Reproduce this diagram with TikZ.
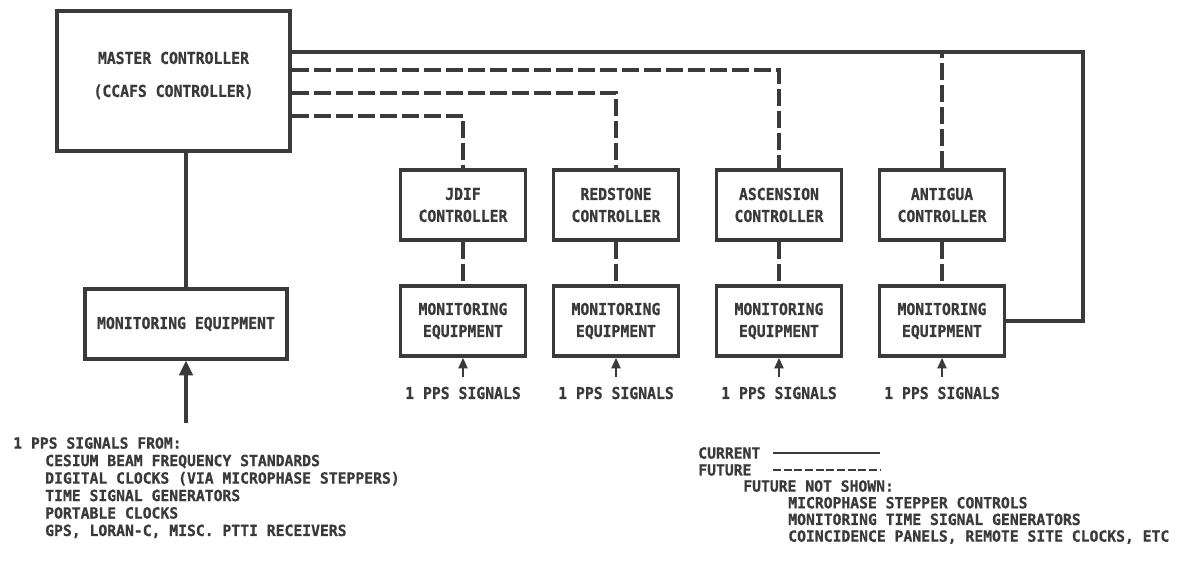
\documentclass[tikz,border=0pt]{standalone}
\usepackage{fontspec}
\newfontfamily\boxletters[FakeStretch=0.9, BoldFeatures={FakeBold=0.8}]{DejaVu Sans Mono}
\newfontfamily\noteletters[FakeStretch=0.96, BoldFeatures={FakeBold=0.8}]{DejaVu Sans Mono}
\usetikzlibrary{positioning, calc, arrows.meta}

\definecolor{ink}{RGB}{58,58,58}
\newcommand{\boxfont}{\boxletters\bfseries\fontsize{12.3}{16.5}\selectfont}
\newcommand{\notefont}{\noteletters\bfseries\fontsize{11.5}{13.1}\selectfont}

\tikzset{
	unit/.style={draw=ink, line width=2.4pt, text=ink, font=\boxfont, align=center, inner sep=0pt},
	site/.style={unit, minimum width=93.75pt, minimum height=52.5pt},
	ppstext/.style={text=ink, font=\boxfont, inner sep=0pt},
	note/.style={text=ink, font=\notefont, align=left, inner sep=0pt},
	current/.style={draw=ink, line width=2.4pt},
	future/.style={draw=ink, line width=2.4pt, dash pattern=on 13pt off 3.5pt},
	feed/.style={draw=ink, line width=2.4pt, -{Triangle[length=11pt,width=10pt]}},
	ppsin/.style={draw=ink, line width=2pt, -{Triangle[length=8pt,width=6.5pt]}, shorten <=7.5pt},
}

\begin{document}
\begin{tikzpicture}[x=0.75pt, y=-0.75pt]
	\useasboundingbox (0,0) rectangle (1181,561);
	\fill[white] (0,0) rectangle (1181,561);

	% master and its own monitoring
	\node[unit, minimum width=174.75pt, minimum height=105pt, text depth=10pt] (master) at (173.5,81) {MASTER CONTROLLER\\[8.25pt](CCAFS CONTROLLER)};
	\node[unit, minimum width=151.5pt, minimum height=52.5pt] (mon) at (186,324) {MONITORING EQUIPMENT};
	\coordinate (feedin) at (186,423);

	% remote sites
	\node[site] (jdif) at (463,205) {JDIF\\CONTROLLER};
	\node[site] (redstone) at (616,205) {REDSTONE\\CONTROLLER};
	\node[site] (ascension) at (779,205) {ASCENSION\\CONTROLLER};
	\node[site] (antigua) at (942,205) {ANTIGUA\\CONTROLLER};

	\node[site] (jdifmon) at (463,321) {MONITORING\\EQUIPMENT};
	\node[site] (redmon) at (616,321) {MONITORING\\EQUIPMENT};
	\node[site] (ascmon) at (779,321) {MONITORING\\EQUIPMENT};
	\node[site] (antmon) at (942,321) {MONITORING\\EQUIPMENT};

	\node[ppstext] (jdifpps) at (463,393) {1 PPS SIGNALS};
	\node[ppstext] (redpps) at (616,393) {1 PPS SIGNALS};
	\node[ppstext] (ascpps) at (779,393) {1 PPS SIGNALS};
	\node[ppstext] (antpps) at (942,393) {1 PPS SIGNALS};

	% links
	\coordinate (rt) at (1083,321);
	\draw[current] (master.east |- 0,52) -| (rt) -- (antmon.east);
	\draw[future] (master.east |- 0,70) -| (ascension.north);
	\draw[future] (master.east |- 0,93) -| (redstone.north);
	\draw[future] (master.east |- 0,116) -| (jdif.north);
	\draw[future] (antigua.north) -- (antigua.north |- 0,52);
	\draw[current] (master.south -| mon.north) -- (mon.north);
	\draw[feed] (feedin) -- (mon.south);

	\draw[future] (jdif.south) -- (jdifmon.north);
	\draw[future] (redstone.south) -- (redmon.north);
	\draw[future] (ascension.south) -- (ascmon.north);
	\draw[future] (antigua.south) -- (antmon.north);

	\draw[ppsin] (jdifpps.north) -- (jdifmon.south);
	\draw[ppsin] (redpps.north) -- (redmon.south);
	\draw[ppsin] (ascpps.north) -- (ascmon.south);
	\draw[ppsin] (antpps.north) -- (antmon.south);

	% sources
	\node[note, anchor=north west] (sources) at (13,437) {1 PPS SIGNALS FROM:\\
		\hspace*{24pt}CESIUM BEAM FREQUENCY STANDARDS\\
		\hspace*{24pt}DIGITAL CLOCKS (VIA MICROPHASE STEPPERS)\\
		\hspace*{24pt}TIME SIGNAL GENERATORS\\
		\hspace*{24pt}PORTABLE CLOCKS\\
		\hspace*{24pt}GPS, LORAN-C, MISC. PTTI RECEIVERS};

	% legend
	\node[note, anchor=west] (cur) at (698,453) {CURRENT};
	\node[note, anchor=west] (fut) at (698,470) {FUTURE};
	\coordinate (curA) at (773,453);
	\coordinate (curB) at (880,453);
	\coordinate (futA) at (773,470);
	\coordinate (futB) at (880,470);
	\draw[current, line width=1.6pt] (curA) -- (curB);
	\draw[future, line width=1.6pt, dash pattern=on 6pt off 2pt] (futA) -- (futB);
	\node[note, anchor=north west] (notshown) at (743,480) {FUTURE NOT SHOWN:\\[-0.6pt]
		\hspace*{33.75pt}MICROPHASE STEPPER CONTROLS\\[-0.6pt]
		\hspace*{33.75pt}MONITORING TIME SIGNAL GENERATORS\\[-0.6pt]
		\hspace*{33.75pt}COINCIDENCE PANELS, REMOTE SITE CLOCKS, ETC};
\end{tikzpicture}
\end{document}
